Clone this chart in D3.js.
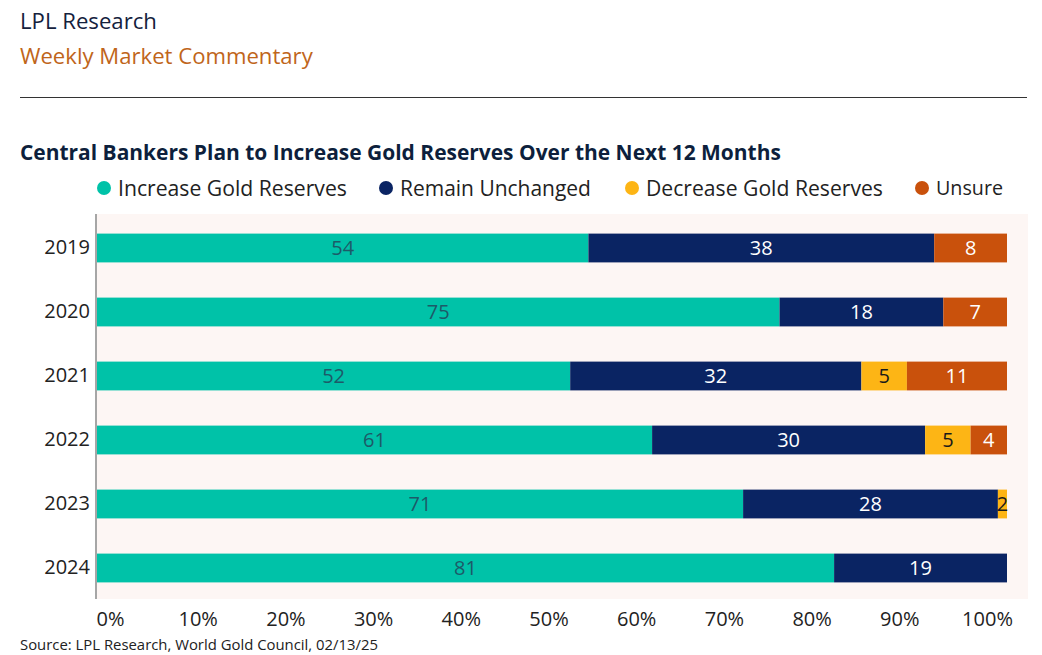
<!DOCTYPE html>
<html><head><meta charset="utf-8">
<script src="https://cdn.jsdelivr.net/npm/d3@7"></script>
<style>
body{margin:0;background:#fff;}
svg{display:block;font-family:"Open Sans", sans-serif;}
</style></head>
<body><svg id="c" width="1042" height="655"></svg>
<script>
const years = ["2019","2020","2021","2022","2023","2024"];
const seriesNames = ["Increase Gold Reserves","Remain Unchanged","Decrease Gold Reserves","Unsure"];
const increase = [54,75,52,61,71,81];
const unchanged = [38,18,32,30,28,19];
const decrease = [0,0,5,5,2,0];
const unsure = [8,7,11,4,0,0];
const tickValues = [0,10,20,30,40,50,60,70,80,90,100];
const colors = ["#00c2a8","#0a2463","#fdb515","#c9510c"];
const labelColors = ["#1d5a68","#ffffff","#1a1a1a","#ffffff"];

const svg = d3.select("#c");
const seriesVals = [increase, unchanged, decrease, unsure];

function fit(sel, target){
  sel.each(function(){
    const len = this.getComputedTextLength();
    const fs = parseFloat(getComputedStyle(this).fontSize);
    d3.select(this).style("font-size",(fs*target/len).toFixed(2)+"px");
  });
}

// header
svg.append("text").attr("x",20).attr("y",29).attr("fill","#14213d")
  .style("font-size","20px").text("LPL Research").call(fit,137);
svg.append("text").attr("x",20).attr("y",64).attr("fill","#c0651a")
  .style("font-size","20px").text("Weekly Market Commentary").call(fit,293);
svg.append("line").attr("x1",20).attr("x2",1027).attr("y1",97.5).attr("y2",97.5)
  .attr("stroke","#333").attr("stroke-width",1.2);
svg.append("text").attr("x",20).attr("y",160).attr("fill","#0d1f3c")
  .style("font-size","20px").style("font-weight","bold")
  .text("Central Bankers Plan to Increase Gold Reserves Over the Next 12 Months").call(fit,761);

// legend
const legendX = [104,386,632,922];
const legendW = [229,191,237,67];
const lg = svg.append("g").selectAll("g").data(seriesNames).join("g")
  .attr("transform",(d,i)=>`translate(${legendX[i]},188)`);
lg.append("circle").attr("r",7).attr("fill",(d,i)=>colors[i]);
lg.append("text").attr("x",14).attr("dy","0.37em").attr("fill","#222")
  .style("font-size","20px").text(d=>d)
  .each(function(d,i){ d3.select(this).call(fit, legendW[i]); });

// scales
const x = d3.scaleLinear().domain([0,100]).range([97,1007]);
const xLab = d3.scaleLinear().domain([0,100]).range([110,987]);
const y = d3.scaleBand().domain(years).range([216,600]).paddingInner(0.55).paddingOuter(0.275);

// plot background
svg.append("rect").attr("x",97).attr("y",214).attr("width",931).attr("height",385).attr("fill","#fdf6f4");

// stacked data
const rows = years.map((yr,i)=>{
  let acc=0; const segs=[];
  seriesVals.forEach((s,k)=>{ const v=s[i]; const x0=acc; acc+=v;
    if(v>0) segs.push({yr,k,v,x0:Math.min(100,x0),x1:Math.min(100,acc)}); });
  return segs;
}).flat();

const bars = svg.append("g");
bars.selectAll("rect").data(rows).join("rect")
  .attr("x",d=>x(d.x0)).attr("width",d=>x(d.x1)-x(d.x0))
  .attr("y",d=>y(d.yr)).attr("height",y.bandwidth())
  .attr("fill",d=>colors[d.k]);
bars.selectAll("text").data(rows).join("text")
  .attr("x",d=>(x(d.x0)+x(d.x1))/2).attr("y",d=>y(d.yr)+y.bandwidth()/2)
  .attr("dy","0.36em").attr("text-anchor","middle")
  .attr("fill",d=>labelColors[d.k]).style("font-size","20px")
  .text(d=>d.v);

// y axis
const ya = svg.append("g").attr("transform","translate(96,0)")
  .call(d3.axisLeft(y).tickSize(0).tickPadding(6));
ya.select(".domain").attr("stroke","#888").attr("stroke-width",1.5).attr("d","M0,214V599");
ya.selectAll("text").style("font-size","20px").style("font-family","'Open Sans', sans-serif").attr("fill","#222");

// x axis labels
const xa = svg.append("g").attr("transform","translate(0,612)")
  .call(d3.axisBottom(xLab).tickValues(tickValues).tickSize(0).tickPadding(0).tickFormat(d=>d+"%"));
xa.select(".domain").remove();
xa.selectAll("text").style("font-size","20px").style("font-family","'Open Sans', sans-serif").attr("fill","#222");

// source
svg.append("text").attr("x",20).attr("y",650).attr("fill","#222")
  .style("font-size","14px").text("Source: LPL Research, World Gold Council, 02/13/25").call(fit,358);
</script></body></html>
